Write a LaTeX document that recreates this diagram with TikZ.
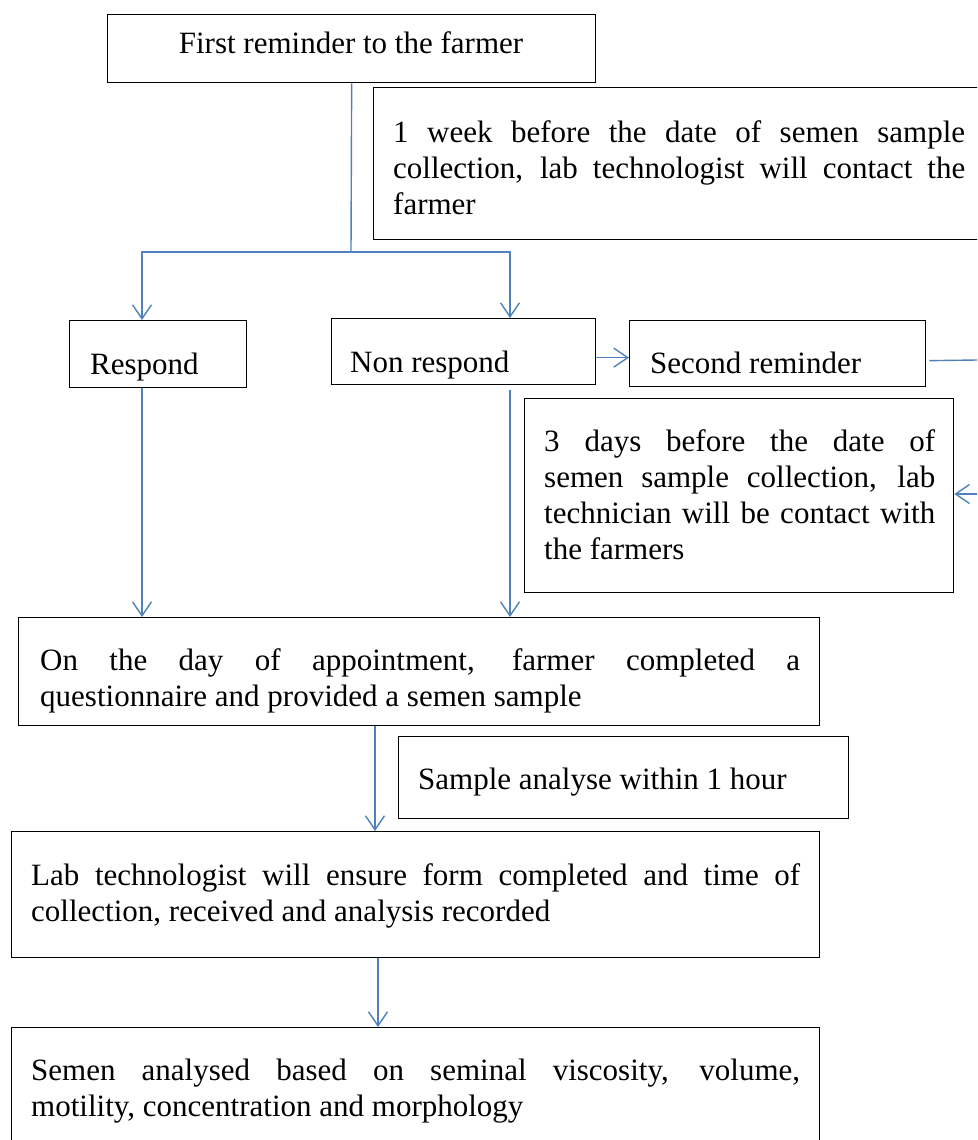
\documentclass[tikz,border=0pt]{standalone}
\usepackage{fontspec}
\setmainfont{Liberation Serif}
\usetikzlibrary{arrows.meta}
\definecolor{conncol}{RGB}{79,129,189}
\begin{document}
\begin{tikzpicture}[x=1pt,y=-1pt,
  box/.style={draw=black, line width=1.3pt, anchor=north west, inner sep=0pt},
  txt/.style={inner sep=0pt, font=\fontsize{31}{36}\selectfont},
  para/.style={txt, align=justify, anchor=base west},
  conn/.style={draw=conncol, line width=1.4pt},
  arr/.style={conn, -{Straight Barb[length=14pt,width=19pt]}}]
\useasboundingbox (0,0) rectangle (977,1140);
\clip (0,0) rectangle (977,1140);
% boxes
\node[box, minimum width=488pt, minimum height=68pt] (first) at (107,14) {};
\node[box, minimum width=620pt, minimum height=152pt] (week) at (373,87) {};
\node[box, minimum width=177pt, minimum height=67pt] (resp) at (69,320) {};
\node[box, minimum width=264pt, minimum height=66pt] (nonresp) at (331,318) {};
\node[box, minimum width=296pt, minimum height=66pt] (second) at (629,320) {};
\node[box, minimum width=429pt, minimum height=194pt] (days) at (524,398) {};
\node[box, minimum width=801pt, minimum height=108pt] (day) at (18,617) {};
\node[box, minimum width=450pt, minimum height=82pt] (sample) at (398,736) {};
\node[box, minimum width=808pt, minimum height=126pt] (lab) at (11,831) {};
\node[box, minimum width=808pt, minimum height=140pt] (semen) at (11,1027) {};
% texts
\node[txt, anchor=base] (firstT) at (351,54) {First reminder to the farmer};
\node[para, text width=572pt] (weekT) at (393,142) {1 week before the date of semen sample\linebreak collection, lab technologist will contact the\linebreak farmer};
\node[txt, anchor=base west] (respT) at (90,374) {Respond};
\node[txt, anchor=base west] (nonrespT) at (350,372) {Non respond};
\node[txt, anchor=base west] (secondT) at (650,373) {Second reminder};
\node[para, text width=391pt] (daysT) at (544,451) {3 days before the date of\linebreak semen sample collection, lab\linebreak technician will be contact with\linebreak the farmers};
\node[para, text width=760pt] (dayT) at (40,670) {On the day of appointment, farmer completed a\linebreak questionnaire and provided a semen sample};
\node[txt, anchor=base west] (sampleT) at (418,789) {Sample analyse within 1 hour};
\node[para, text width=769pt] (labT) at (31,885) {Lab technologist will ensure form completed and time of\linebreak collection, received and analysis recorded};
\node[para, text width=769pt] (semenT) at (31,1080) {Semen analysed based on seminal viscosity, volume,\linebreak motility, concentration and morphology};
% connectors
\coordinate (split) at (351,252);
\coordinate (edgeA) at (977,360);
\coordinate (edgeB) at (977,494);
\draw[conn] (first.south) -- (split);
\draw[arr] (split) -| ([xshift=73pt]resp.north west);
\draw[arr] (split) -| ([xshift=179pt]nonresp.north west);
\draw[arr] ([yshift=-6pt]nonresp.east) -- ([yshift=-6pt]nonresp.east -| second.west);
\draw[conn] ([xshift=3pt,yshift=-7pt]second.east) -- (edgeA);
\draw[arr] (edgeB) -- (edgeB -| days.east);
\draw[arr] ([xshift=73pt]resp.south west) -- ([xshift=73pt]resp.south west |- day.north);
\draw[arr] ([xshift=179pt,yshift=-5pt]nonresp.south west) -- ([xshift=179pt]nonresp.south west |- day.north);
\draw[arr] ([xshift=357pt]day.south west) -- ([xshift=357pt]day.south west |- lab.north);
\draw[arr] ([xshift=367pt]lab.south west) -- ([xshift=367pt]lab.south west |- semen.north);
\end{tikzpicture}
\end{document}
